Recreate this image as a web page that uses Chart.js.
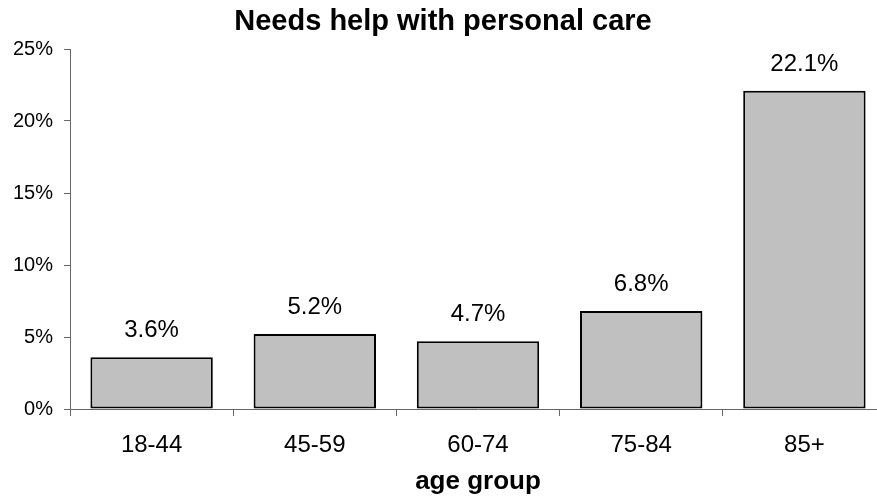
<!DOCTYPE html>
<html>
<head>
<meta charset="utf-8">
<style>
  html, body { margin: 0; padding: 0; background: #fff; overflow: hidden; }
  canvas { display: block; }
</style>
<script src="https://cdn.jsdelivr.net/npm/chart.js@4/dist/chart.umd.min.js"></script>
</head>
<body>
<canvas id="chart" width="886" height="498"></canvas>
<script>
// Share of people needing help with personal care, by age group
const ageGroups = ['18-44', '45-59', '60-74', '75-84', '85+'];
const needsHelpPct = [3.6, 5.2, 4.7, 6.8, 22.1];
const yTickLabels = ['0%', '5%', '10%', '15%', '20%', '25%'];

const FONT = "'Liberation Sans', Arial, Helvetica, sans-serif";
const AXIS_GREY = '#666666';

// Draws the value above each bar
const barValueLabels = {
  id: 'barValueLabels',
  afterDatasetsDraw(chart) {
    const ctx = chart.ctx;
    const meta = chart.getDatasetMeta(0);
    const values = chart.data.datasets[0].data;
    ctx.save();
    ctx.font = '24px ' + FONT;
    ctx.fillStyle = '#000';
    ctx.textAlign = 'center';
    ctx.textBaseline = 'alphabetic';
    meta.data.forEach((bar, i) => {
      ctx.fillText(values[i].toFixed(1) + '%', bar.x, bar.y - 20);
    });
    ctx.restore();
  }
};

new Chart(document.getElementById('chart'), {
  type: 'bar',
  data: {
    labels: ageGroups,
    datasets: [{
      data: needsHelpPct,
      backgroundColor: '#C0C0C0',
      borderColor: '#000000',
      borderWidth: 2,
      borderSkipped: false,
      barPercentage: 0.75,
      categoryPercentage: 1.0
    }]
  },
  options: {
    responsive: false,
    animation: false,
    devicePixelRatio: 1,
    layout: { padding: 0 },
    plugins: {
      legend: { display: false },
      tooltip: { enabled: false },
      title: {
        display: true,
        text: 'Needs help with personal care',
        color: '#000',
        font: { family: FONT, size: 29, weight: 'bold', lineHeight: 1.2 },
        padding: { top: 4.5, bottom: 9.7 }
      }
    },
    scales: {
      x: {
        type: 'category',
        offset: true,
        grid: {
          offset: true,
          drawOnChartArea: false,
          drawTicks: true,
          tickLength: 7,
          color: AXIS_GREY,
          lineWidth: 1
        },
        border: { display: true, color: AXIS_GREY, width: 1 },
        ticks: {
          color: '#000',
          font: { family: FONT, size: 24 },
          padding: 15,
          maxRotation: 0,
          autoSkip: false
        },
        title: {
          display: true,
          text: 'age group',
          color: '#000',
          font: { family: FONT, size: 26, weight: 'bold', lineHeight: 1.2 },
          padding: { top: 0, bottom: 1 }
        },
        afterFit(scale) { scale.height = 89; }
      },
      y: {
        min: 0,
        max: 25,
        grid: {
          drawOnChartArea: false,
          drawTicks: true,
          tickLength: 6,
          color: AXIS_GREY,
          lineWidth: 1
        },
        border: { display: true, color: AXIS_GREY, width: 1 },
        ticks: {
          stepSize: 5,
          color: '#000',
          font: { family: FONT, size: 20 },
          padding: 11,
          callback: (value, index) => yTickLabels[index]
        },
        afterFit(scale) { scale.width = 70; }
      }
    }
  },
  plugins: [barValueLabels]
});
</script>
</body>
</html>
